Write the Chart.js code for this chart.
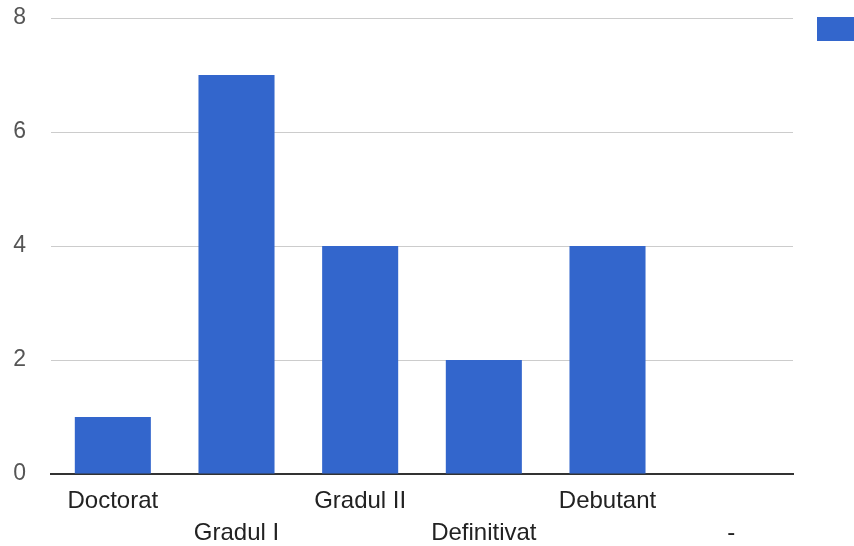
<!DOCTYPE html>
<html>
<head>
<meta charset="utf-8">
<script src="https://cdn.jsdelivr.net/npm/chart.js@4"></script>
<style>
  body { margin: 0; background: #fff; }
  #wrap { width: 854px; height: 546px; }
</style>
</head>
<body>
<div id="wrap"><canvas id="chart" width="854" height="546"></canvas></div>
<script>
var categories = ['Doctorat', 'Gradul I', 'Gradul II', 'Definitivat', 'Debutant', '-'];
var values = [1, 7, 4, 2, 4, 0];
var yTicks = [0, 2, 4, 6, 8];
var barColor = '#3366cc';

// staggered labels: odd ones go on the second row
var labels = categories.map(function(c, i) {
	return i % 2 == 0 ? c : ['', c];
});

// legend swatch, cut off at the right edge like the original
var legendSwatch = {
	id: 'legendSwatch',
	afterDraw: function(chart) {
		var ctx = chart.ctx;
		ctx.save();
		ctx.fillStyle = chart.data.datasets[0].backgroundColor;
		ctx.fillRect(chart.chartArea.right + 24, chart.chartArea.top - 1, 50, 24);
		ctx.restore();
	}
};

var ctx = document.getElementById('chart').getContext('2d');
var myChart = new Chart(ctx, {
	type: 'bar',
	data: {
		labels: labels,
		datasets: [{
			data: values,
			backgroundColor: barColor,
			borderWidth: 0,
			barPercentage: 0.615,
			categoryPercentage: 1
		}]
	},
	options: {
		responsive: false,
		animation: false,
		layout: { padding: { top: 18, right: 61, bottom: 0, left: 0 } },
		plugins: {
			legend: { display: false },
			tooltip: { enabled: false }
		},
		scales: {
			x: {
				grid: { display: false, drawTicks: false },
				border: { display: true, color: '#333', width: 2 },
				ticks: {
					color: '#222',
					font: { family: 'Liberation Sans', size: 24, lineHeight: 1.33 },
					maxRotation: 0,
					autoSkip: false,
					padding: 11
				},
				afterFit: function(scale) { scale.height = 72; }
			},
			y: {
				min: 0,
				max: 8,
				afterBuildTicks: function(scale) {
					scale.ticks = yTicks.map(function(v) { return { value: v }; });
				},
				grid: { color: '#cccccc', drawTicks: false },
				border: { display: false },
				ticks: {
					color: '#555',
					font: { family: 'Liberation Sans', size: 23 },
					padding: 25
				},
				afterFit: function(scale) {
					scale.width = 51;
					scale.paddingTop = 0;
					scale.paddingBottom = 0;
				}
			}
		}
	},
	plugins: [legendSwatch]
});
</script>
</body>
</html>
